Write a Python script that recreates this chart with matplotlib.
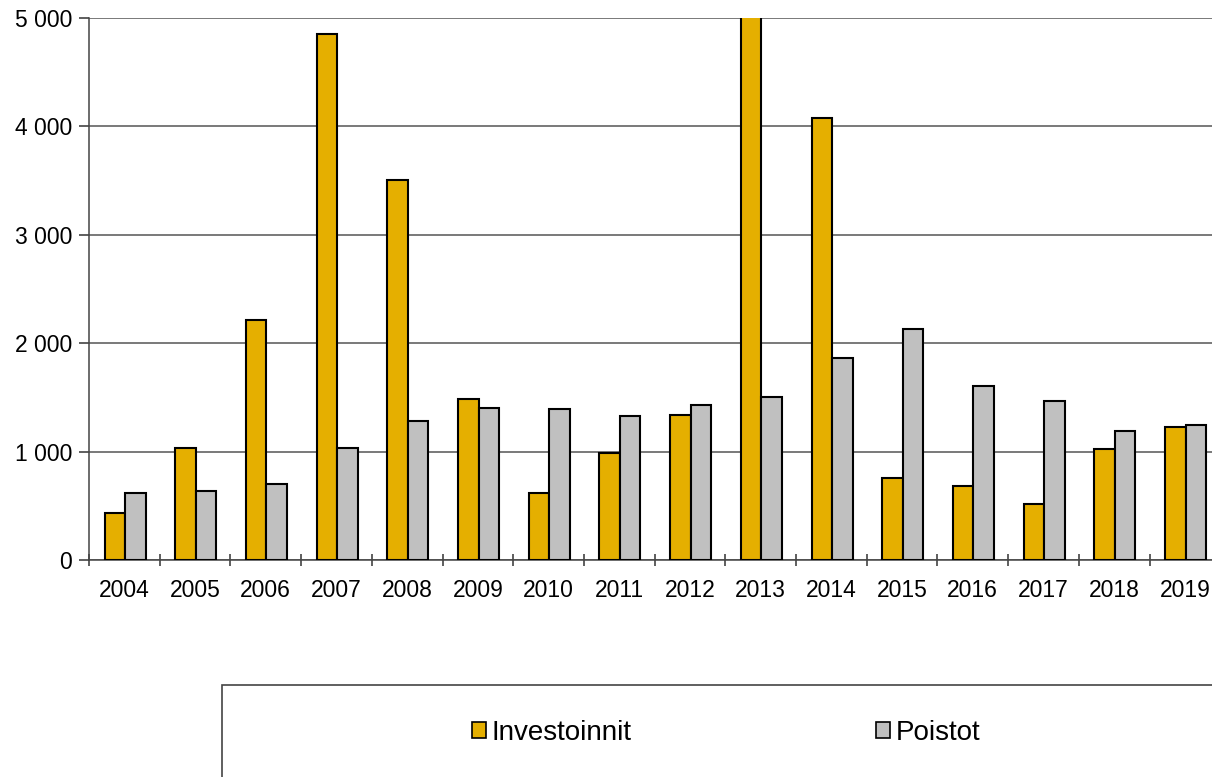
import numpy as np
import matplotlib.pyplot as plt
from matplotlib.patches import Rectangle, Patch

plt.rcParams["font.family"] = ["Liberation Sans", "DejaVu Sans"]

# Data
years = ["2004", "2005", "2006", "2007", "2008", "2009", "2010", "2011",
         "2012", "2013", "2014", "2015", "2016", "2017", "2018", "2019"]
investoinnit = [434, 1030, 2214, 4852, 3505, 1485, 618, 987,
                1338, 5300, 4077, 756, 680, 512, 1027, 1230]
poistot = [618, 636, 700, 1033, 1282, 1402, 1393, 1328,
           1430, 1504, 1863, 2131, 1602, 1470, 1190, 1250]

YELLOW = "#E5AF00"
GREY = "#C0C0C0"

fig = plt.figure(figsize=(12.12, 7.77), dpi=100)
ax = fig.add_axes([89 / 1212, (777 - 560) / 777, 1 - 89 / 1212, (560 - 18) / 777])

x = np.arange(len(years))
w = 0.29
ax.bar(x - w / 2 + 0.01, investoinnit, w, color=YELLOW, edgecolor="black", linewidth=1.5, zorder=3)
ax.bar(x + w / 2 + 0.01, poistot, w, color=GREY, edgecolor="black", linewidth=1.5, zorder=3)

ax.set_yticks(range(0, 5001, 1000))
ax.set_yticklabels([f"{v:,}".replace(",", " ") for v in range(0, 5001, 1000)], fontsize=16.5)
ax.yaxis.grid(True, color="#555555", linewidth=1.1, zorder=0)
ax.set_axisbelow(True)

# category labels centered, ticks on boundaries
ax.set_xticks(x)
ax.set_xticklabels(years, fontsize=16.5)
ax.tick_params(axis="x", which="major", length=0, pad=14)
ax.set_xticks(np.arange(-0.5, len(years), 1), minor=True)
ax.tick_params(axis="x", which="minor", length=9, direction="inout", width=1.1, color="#333333")
ax.tick_params(axis="y", length=7, width=1.1, color="#333333", pad=5)

# limits after ticks so they are not widened
ax.set_ylim(0, 5000)
ax.set_xlim(-0.5, -0.5 + (1212 - 89) / 70.7)

for s in ["top", "right"]:
    ax.spines[s].set_visible(False)
for s in ["left", "bottom"]:
    ax.spines[s].set_color("#444444")
    ax.spines[s].set_linewidth(1.1)

# legend box
fig.patches.append(Rectangle((222 / 1212, -0.02), 1.0, (777 - 685) / 777 + 0.02,
                             transform=fig.transFigure, fill=False,
                             edgecolor="#444444", linewidth=1.2))
handles = [Patch(facecolor=YELLOW, edgecolor="black", linewidth=1.2, label="Investoinnit"),
           Patch(facecolor=GREY, edgecolor="black", linewidth=1.2, label="Poistot")]
fig.legend(handles=handles, loc="center left", bbox_to_anchor=(472 / 1212, (777 - 733) / 777),
           ncol=2, frameon=False, fontsize=20, handlelength=0.5, handleheight=0.5,
           handletextpad=0.2, columnspacing=8.8, borderpad=0, borderaxespad=0)

fig.savefig("out.png", dpi=100)
